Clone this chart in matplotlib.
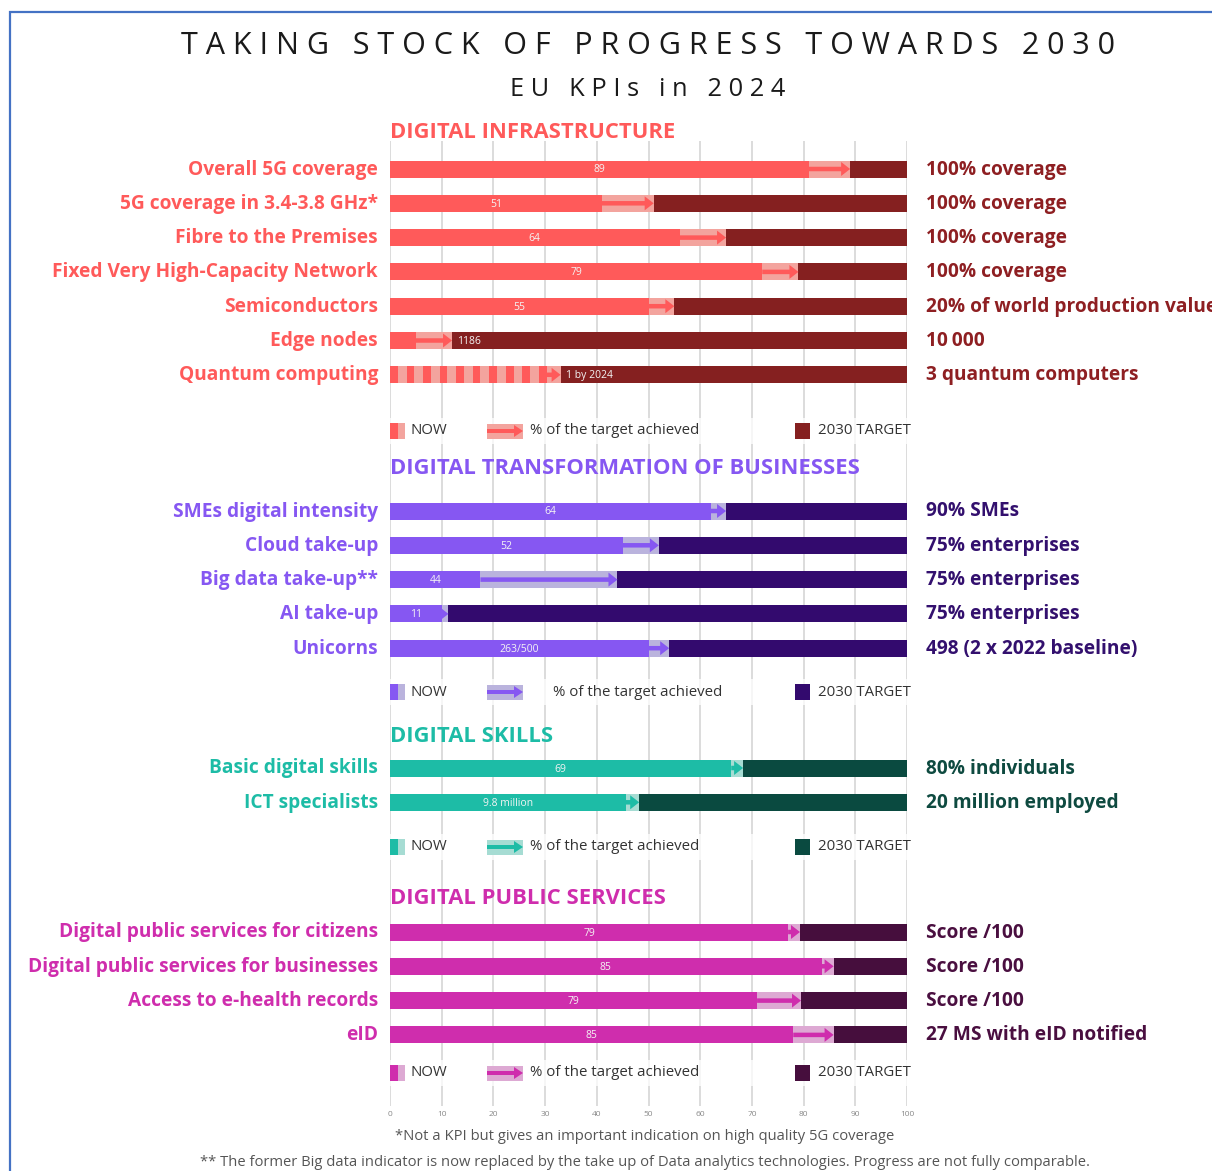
import matplotlib
matplotlib.use("Agg")
import matplotlib.pyplot as plt
from matplotlib.patches import Rectangle, FancyArrow
import numpy as np

plt.rcParams['font.family'] = ['Open Sans', 'DejaVu Sans']

# ---- data (percent of the way to the 2030 target) ----
infra_labels = ['Overall 5G coverage', '5G coverage in 3.4-3.8 GHz*', 'Fibre to the Premises',
                'Fixed Very High-Capacity Network', 'Semiconductors', 'Edge nodes', 'Quantum computing']
infra_prev = [81, 41, 56, 72, 50, 5, 30]
infra_now = [89, 51, 65, 79, 55, 12, 33]
infra_values = ['89', '51', '64', '79', '55', '1186', '1 by 2024']
infra_targets = ['100% coverage', '100% coverage', '100% coverage', '100% coverage',
                 '20% of world production value', '10\u2009000', '3 quantum computers']

biz_labels = ['SMEs digital intensity', 'Cloud take-up', 'Big data take-up**', 'AI take-up', 'Unicorns']
biz_prev = [62, 45, 17.5, 10, 50]
biz_now = [65, 52, 44, 11.3, 54]
biz_values = ['64', '52', '44', '11', '263/500']
biz_targets = ['90% SMEs', '75% enterprises', '75% enterprises', '75% enterprises', '498 (2 x 2022 baseline)']

skills_labels = ['Basic digital skills', 'ICT specialists']
skills_prev = [66, 45.6]
skills_now = [68.3, 48.2]
skills_values = ['69', '9.8 million']
skills_targets = ['80% individuals', '20 million employed']

pub_labels = ['Digital public services for citizens', 'Digital public services for businesses',
              'Access to e-health records', 'eID']
pub_prev = [77, 83.5, 71, 78]
pub_now = [79.3, 85.8, 79.5, 85.8]
pub_values = ['79', '85', '79', '85']
pub_targets = ['Score /100', 'Score /100', 'Score /100', '27 MS with eID notified']

ticks = np.arange(0, 101, 10)

# ---- layout / colours ----
sections = [
    dict(title='DIGITAL INFRASTRUCTURE', labels=infra_labels, prev=infra_prev, now=infra_now,
         values=infra_values, targets=infra_targets, hy=133, y0=169, leg=431, legtx=27,
         c1='#FF5A5A', c2='#F3A49E', c3='#852020', ct='#8E1F22', stripes=6),
    dict(title='DIGITAL TRANSFORMATION OF BUSINESSES', labels=biz_labels, prev=biz_prev, now=biz_now,
         values=biz_values, targets=biz_targets, hy=468, y0=511, leg=692, legtx=31.5,
         c1='#8657F2', c2='#BAB3DD', c3='#330A6E', ct='#33106E', stripes=None),
    dict(title='DIGITAL SKILLS', labels=skills_labels, prev=skills_prev, now=skills_now,
         values=skills_values, targets=skills_targets, hy=736, y0=768, leg=847, legtx=27,
         c1='#1DBCA6', c2='#A6DCD3', c3='#0A4A40', ct='#0E4A40', stripes=None),
    dict(title='DIGITAL PUBLIC SERVICES', labels=pub_labels, prev=pub_prev, now=pub_now,
         values=pub_values, targets=pub_targets, hy=899, y0=932, leg=1073, legtx=27,
         c1='#CF2DAD', c2='#DDA9D3', c3='#460E3D', ct='#4A0F40', stripes=None),
]
step = 34.3
bh = 17

fig = plt.figure(figsize=(12.12, 11.71), dpi=100)
ax = fig.add_axes([390 / 1212, 0, 517 / 1212, 1])
ax.set_xlim(0, 100)
ax.set_ylim(1171, 0)
ax.axis('off')
px = 100 / 517  # data units per pixel in x

# frame
fig.patches.append(Rectangle((10 / 1212, -0.1), 1.2, (1171 - 12) / 1171 + 0.1, transform=fig.transFigure,
                             fill=False, edgecolor='#4472C4', lw=1.6))

fig.text(648 / 1212, 1 - 46 / 1171, '   '.join(' '.join(w) for w in 'TAKING STOCK OF PROGRESS TOWARDS 2030'.split()),
         ha='center', va='center', fontsize=22, color='#1a1a1a')
fig.text(648 / 1212, 1 - 89 / 1171, '   '.join(' '.join(w) for w in 'EU KPIs in 2024'.split()),
         ha='center', va='center', fontsize=18.3, color='#1a1a1a')

# gridlines
ax.vlines(ticks, 141, 1106, color='#d9d9d9', lw=1.3, zorder=0)
for t in ticks:
    ax.text(t, 1115, str(t), ha='center', va='center', fontsize=6, color='#888888')

for s in sections:
    c1, c2, c3 = s['c1'], s['c2'], s['c3']
    ax.text(0, s['hy'], s['title'], ha='left', va='center', fontsize=15.8, fontweight='bold', color=c1, zorder=5)
    ys = s['y0'] + step * np.arange(len(s['labels']))
    for i, y in enumerate(ys):
        p, n = s['prev'][i], s['now'][i]
        # target (remaining) part
        ax.barh(y, 100 - n, left=n, height=bh, color=c3, zorder=2)
        # progress part (light) + current level (bright)
        ax.barh(y, n - p, left=p, height=bh, color=c2, zorder=2)
        if s['stripes'] == i:
            ax.barh(y, p, left=0, height=bh, color=c2, zorder=2)
            for x0 in np.arange(0, p, 3.2):
                ax.barh(y, 1.5, left=x0, height=bh, color=c1, zorder=3)
        else:
            ax.barh(y, p, left=0, height=bh, color=c1, zorder=2)
        ax.add_patch(FancyArrow(p, y, n - p, 0, width=4.5, head_width=14, head_length=9 * px,
                                length_includes_head=True, color=c1, lw=0, zorder=4))
        if p < 8 or s['stripes'] == i:
            ax.text(n + 1, y + 1, s['values'][i], ha='left', va='center', fontsize=7.5, color='#f4f4f4', zorder=5)
        else:
            ax.text(p / 2, y + 1, s['values'][i], ha='center', va='center', fontsize=7.5, color='#f4f4f4', zorder=5)
        ax.text(-2.3, y + 0.5, s['labels'][i], ha='right', va='center', fontsize=13.8, fontweight='bold', color=c1)
        ax.text(103.6, y + 0.5, s['targets'][i], ha='left', va='center', fontsize=13.8, fontweight='bold',
                color=s['ct'])

    # legend
    ly = s['leg']
    ax.add_patch(Rectangle((-1, ly - 13), 103, 26, color='white', alpha=0.75, lw=0, zorder=1))
    ax.add_patch(Rectangle((0, ly - 8), 8 * px, 16, color=c1, lw=0, zorder=2))
    ax.add_patch(Rectangle((8 * px, ly - 8), 7 * px, 16, color=c2, lw=0, zorder=2))
    ax.text(4, ly, 'NOW', ha='left', va='center', fontsize=10.8, color='#333333')
    ax.add_patch(Rectangle((97 * px, ly - 7.5), 36 * px, 15, color=c2, lw=0, zorder=2))
    ax.add_patch(FancyArrow(97 * px, ly, 36 * px, 0, width=4, head_width=12, head_length=9 * px,
                            length_includes_head=True, color=c1, lw=0, zorder=3))
    ax.text(s['legtx'], ly, '% of the target achieved', ha='left', va='center', fontsize=10.8, color='#333333')
    ax.add_patch(Rectangle((405 * px, ly - 8), 15 * px, 16, color=c3, lw=0, zorder=2))
    ax.text(82.8, ly, '2030 TARGET', ha='left', va='center', fontsize=10.8, color='#333333')

fig.text(645 / 1212, 1 - 1137 / 1171, '*Not a KPI but gives an important indication on high quality 5G coverage',
         ha='center', va='center', fontsize=10.6, color='#555555')
fig.text(645 / 1212, 1 - 1163 / 1171,
         '** The former Big data indicator is now replaced by the take up of Data analytics technologies. '
         'Progress are not fully comparable.', ha='center', va='center', fontsize=10.6, color='#555555')

fig.savefig('out.png', dpi=100)
